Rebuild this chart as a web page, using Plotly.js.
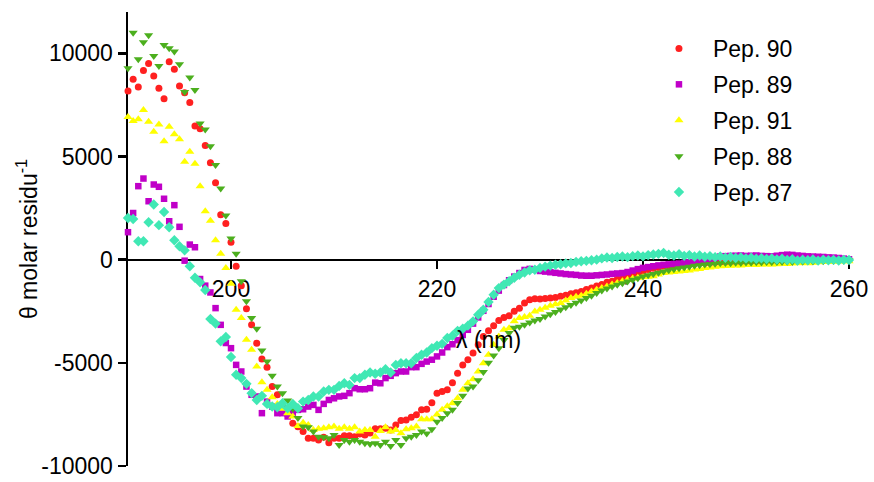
<!DOCTYPE html>
<html>
<head>
<meta charset="utf-8">
<script src="https://cdn.plot.ly/plotly-3.0.1.min.js"></script>
<style>html,body{margin:0;padding:0;background:#fff;}#chart{width:874px;height:482px;}</style>
</head>
<body>
<div id="chart"></div>
<script>
// Wavelength (nm)
const wavelength = [
190,190.5,191,191.5,192,192.5,193,193.5,194,194.5,
195,195.5,196,196.5,197,197.5,198,198.5,199,199.5,
200,200.5,201,201.5,202,202.5,203,203.5,204,204.5,
205,205.5,206,206.5,207,207.5,208,208.5,209,209.5,
210,210.5,211,211.5,212,212.5,213,213.5,214,214.5,
215,215.5,216,216.5,217,217.5,218,218.5,219,219.5,
220,220.5,221,221.5,222,222.5,223,223.5,224,224.5,
225,225.5,226,226.5,227,227.5,228,228.5,229,229.5,
230,230.5,231,231.5,232,232.5,233,233.5,234,234.5,
235,235.5,236,236.5,237,237.5,238,238.5,239,239.5,
240,240.5,241,241.5,242,242.5,243,243.5,244,244.5,
245,245.5,246,246.5,247,247.5,248,248.5,249,249.5,
250,250.5,251,251.5,252,252.5,253,253.5,254,254.5,
255,255.5,256,256.5,257,257.5,258,258.5,259,259.5,
260];

const pep90 = [
8170,8740,8370,9170,9500,8900,8300,7800,9590,9220,
8410,8090,7610,6470,6340,5530,4690,3720,2180,1750,
840,-320,-1260,-2380,-3160,-4050,-4820,-5210,-6150,-6550,
-7050,-7520,-7930,-8100,-8330,-8660,-8660,-8740,-8610,-8870,
-8660,-8660,-8540,-8540,-8580,-8450,-8500,-8400,-8200,-8200,
-8170,-8250,-8010,-7800,-7770,-7640,-7520,-7280,-7250,-6930,
-6470,-6390,-6310,-5960,-5500,-5100,-4850,-4530,-4130,-3720,
-3450,-3200,-2950,-2800,-2720,-2500,-2350,-2100,-1940,-1900,
-1910,-1880,-1860,-1830,-1780,-1720,-1650,-1600,-1540,-1450,
-1380,-1280,-1210,-1100,-1050,-950,-890,-780,-730,-650,
-570,-480,-420,-380,-320,-300,-270,-240,-230,-210,
-180,-160,-160,-150,-140,-130,-130,-120,-110,-110,
-100,-90,-90,-80,-70,-70,-60,-60,-50,-50,
-40,-40,-30,-30,-20,-20,-10,-10,0,0,
10];

const pep89 = [
1330,2260,3560,3930,2830,3640,3530,2950,1860,2640,
1590,-50,730,600,-940,-1260,-1590,-2350,-3160,-4040,
-4290,-5100,-5420,-6150,-6550,-6630,-7440,-6880,-7120,-7440,
-7440,-7600,-7440,-7280,-7250,-7120,-7040,-7280,-6990,-6800,
-6720,-6630,-6600,-6470,-6230,-6280,-6280,-6230,-5960,-5990,
-5740,-5630,-5500,-5420,-5420,-5210,-5210,-5050,-4940,-4850,
-4690,-4500,-4240,-4100,-3900,-3650,-3400,-3100,-2800,-2480,
-2150,-1800,-1500,-1230,-1000,-820,-650,-500,-450,-480,
-550,-580,-610,-640,-670,-700,-720,-740,-770,-780,
-780,-760,-740,-720,-690,-670,-650,-600,-530,-460,
-400,-360,-320,-280,-250,-230,-210,-190,-160,-130,
-110,-80,-60,0,80,150,170,180,190,200,
180,190,200,180,170,160,190,220,240,230,
200,180,160,150,140,130,110,100,80,50,
20];

const pep91 = [
6910,6720,6800,7250,6680,6200,6550,5740,6440,6070,
5830,4740,5230,4650,3560,2350,1890,940,290,-400,
-1170,-2430,-2830,-3880,-4370,-5180,-5940,-6310,-6670,-6990,
-7230,-7440,-7600,-8060,-7900,-8010,-8250,-8200,-8170,-8120,
-8090,-8200,-8120,-8200,-8120,-8330,-8250,-8250,-8580,-8300,
-8120,-8330,-8250,-8410,-8220,-8170,-8090,-7740,-7740,-7740,
-7500,-7280,-7100,-6960,-6720,-6310,-5990,-5800,-5420,-5020,
-4610,-4130,-3720,-3400,-3320,-2990,-2830,-2780,-2720,-2510,
-2430,-2330,-2230,-2160,-2100,-1980,-1860,-1800,-1750,-1650,
-1540,-1460,-1380,-1300,-1200,-1130,-1050,-980,-920,-880,
-850,-830,-810,-720,-650,-620,-600,-580,-550,-530,
-480,-450,-400,-380,-350,-320,-310,-300,-280,-280,
-260,-250,-260,-240,-230,-240,-220,-200,-210,-180,
-170,-160,-170,-150,-130,-120,-110,-100,-90,-80,
-80];

const pep88 = [
9270,11000,9710,10530,10870,9870,9380,10400,10240,10080,
9470,8120,8820,8220,6600,6310,5500,4580,3450,2140,
1020,290,-1050,-2020,-2830,-3350,-4400,-4940,-5630,-6150,
-6470,-6830,-7230,-7680,-8090,-8120,-8330,-8580,-8610,-8660,
-8500,-8980,-8740,-8820,-8740,-8820,-8900,-8930,-8900,-8980,
-8820,-9030,-8740,-8980,-8660,-8580,-8500,-8330,-8420,-8220,
-7850,-7680,-7440,-7280,-6950,-6600,-6250,-6150,-5850,-5450,
-5000,-4650,-4300,-3900,-3550,-3300,-3250,-3150,-3050,-2950,
-2880,-2760,-2650,-2540,-2420,-2310,-2200,-2090,-1980,-1860,
-1750,-1620,-1500,-1400,-1300,-1220,-1150,-1060,-980,-900,
-820,-760,-700,-640,-580,-520,-470,-420,-380,-340,
-300,-270,-240,-220,-200,-180,-160,-170,-150,-160,
-140,-150,-130,-140,-120,-130,-110,-120,-100,-110,
-90,-100,-80,-90,-70,-80,-60,-70,-50,-60,
-40];

const pep87 = [
2020,1970,890,890,1810,2670,1670,2310,1570,940,
650,450,-320,-880,-1100,-1470,-2880,-3100,-3960,-3750,
-4720,-5580,-5740,-6020,-6470,-6800,-6600,-6990,-7120,-7150,
-6960,-7200,-6990,-7200,-6880,-6800,-6630,-6630,-6390,-6310,
-6310,-6120,-5990,-6070,-5740,-5740,-5580,-5470,-5530,-5470,
-5310,-5470,-5100,-5020,-5020,-5020,-4770,-4610,-4500,-4290,
-4170,-4080,-3800,-3690,-3450,-3350,-3200,-2990,-2670,-2430,
-2050,-1700,-1380,-1210,-1050,-880,-730,-620,-520,-490,
-400,-340,-290,-250,-220,-180,-160,-110,-80,-60,
-30,0,60,100,80,130,150,120,170,200,
160,220,250,280,320,240,200,260,180,220,
150,200,140,170,120,150,90,130,80,110,
60,90,40,70,30,60,10,40,-20,20,
-40,0,-30,10,-50,0,-30,-10,-40,-10,
-20];

const seriesNames = ['Pep. 90','Pep. 89','Pep. 91','Pep. 88','Pep. 87'];
const seriesValues = [pep90, pep89, pep91, pep88, pep87];
const yTickVals = [-10000,-5000,0,5000,10000];
const xTickVals = [200,220,240,260];

seriesValues.forEach((s,i)=>{ if (s.length !== wavelength.length) throw new Error(seriesNames[i]+' length '+s.length); });

const styles = [
  {symbol:'circle', color:'#FF2020', size:7},
  {symbol:'square', color:'#C000C8', size:6.5},
  {symbol:'triangle-up', color:'#FFFF00', size:8},
  {symbol:'triangle-down', color:'#4CAF1E', size:8},
  {symbol:'diamond', color:'#40E8B4', size:8}
];

const FONT = 'Liberation Sans, Arial, Helvetica, sans-serif';

const traces = seriesNames.map((name,i)=>({
  type:'scatter', mode:'markers', name:name,
  x: wavelength, y: seriesValues[i],
  legendgroup: 'g'+i,
  cliponaxis: false,
  marker:{symbol:styles[i].symbol, color:styles[i].color, size:styles[i].size, line:{width:0}}
}));

const layout = {
  width:874, height:482,
  margin:{l:128, r:25, t:12, b:16, pad:0},
  paper_bgcolor:'#fff', plot_bgcolor:'#fff',
  font:{family:FONT, size:23, color:'#000'},
  showlegend:true,
  legend:{x:0.717, xanchor:'left', y:0.967, yanchor:'top', bgcolor:'rgba(0,0,0,0)',
          borderwidth:0, font:{family:FONT, size:23, color:'#000'},
          itemwidth:58, traceorder:'grouped', tracegroupgap:3},
  xaxis:{range:[190,260], anchor:'free', position:10000/22000,
         tickvals:xTickVals, ticktext:xTickVals.map(String),
         ticks:'outside', ticklen:8, tickwidth:2.5, tickcolor:'#000',
         showline:true, linewidth:2.5, linecolor:'#000', mirror:false,
         showgrid:false, zeroline:false, layer:'below traces',
         tickfont:{family:FONT, size:23, color:'#000'}},
  yaxis:{range:[-10000,12000], tickvals:yTickVals, ticktext:yTickVals.map(String),
         ticks:'outside', ticklen:8, tickwidth:2.5, tickcolor:'#000',
         showline:true, linewidth:2.5, linecolor:'#000',
         showgrid:false, zeroline:false, layer:'below traces',
         tickfont:{family:FONT, size:23, color:'#000'}},
  annotations:[
    {text:'λ (nm)', xref:'paper', yref:'paper', x:0.5, y:0.2775,
     xanchor:'center', yanchor:'middle', showarrow:false,
     font:{family:FONT, size:23, color:'#000'}},
    {text:'θ molar residu<sup>-1</sup>', xref:'paper', yref:'paper', x:-0.140, y:0.5,
     xanchor:'center', yanchor:'middle', textangle:-90, showarrow:false,
     font:{family:FONT, size:23, color:'#000'}}
  ]
};

Plotly.newPlot('chart', traces, layout, {displayModeBar:false, staticPlot:true});
</script>
</body>
</html>
